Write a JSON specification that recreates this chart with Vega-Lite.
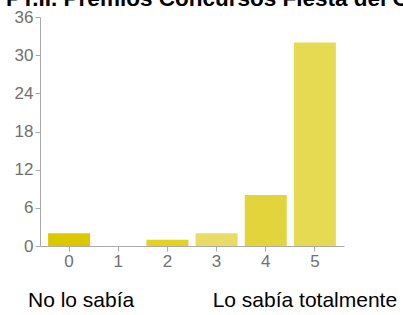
{
  "$schema": "https://vega.github.io/schema/vega-lite/v6.json",
  "autosize": {"type": "none"},
  "padding": {"left": 40, "top": 17, "right": 59, "bottom": 69},
  "width": 304,
  "height": 229,
  "background": "white",
  "title": {
    "text": "PT.II. Premios Concursos Fiesta del Cine",
    "anchor": "start",
    "dx": -8,
    "offset": -2,
    "font": "Liberation Sans",
    "fontSize": 22.5,
    "fontWeight": "bold",
    "color": "#000000"
  },
  "config": {
    "view": {"stroke": null},
    "font": "Liberation Sans",
    "axisX": {
      "title": null,
      "labelAngle": 0,
      "labelFont": "Liberation Sans",
      "labelFontSize": 17,
      "labelColor": "#707070",
      "labelPadding": 2,
      "domainColor": "#aaaaaa",
      "tickColor": "#aaaaaa",
      "tickSize": 5
    },
    "axisY": {
      "title": null,
      "labelOverlap": false,
      "grid": false,
      "labelFont": "Liberation Sans",
      "labelFontSize": 17,
      "labelColor": "#707070",
      "labelPadding": 2,
      "domainColor": "#aaaaaa",
      "tickColor": "#aaaaaa",
      "tickSize": 5
    }
  },
  "data": {
    "values": [
      {"score": "0", "count": 2},
      {"score": "1", "count": 0},
      {"score": "2", "count": 1},
      {"score": "3", "count": 2},
      {"score": "4", "count": 8},
      {"score": "5", "count": 32}
    ]
  },
  "layer": [
    {
      "mark": {"type": "bar"},
      "encoding": {
        "x": {
          "field": "score",
          "type": "ordinal",
          "scale": {"paddingInner": 0.146, "paddingOuter": 0.165}
        },
        "y": {
          "field": "count",
          "type": "quantitative",
          "scale": {"domain": [0, 36], "nice": false},
          "axis": {"values": [0, 6, 12, 18, 24, 30, 36]}
        },
        "color": {
          "field": "score",
          "type": "nominal",
          "scale": {
            "domain": ["0", "1", "2", "3", "4", "5"],
            "range": ["#DCC800", "#E0D030", "#E2D222", "#E8DC66", "#E2D43A", "#E6DA52"]
          },
          "legend": null
        }
      }
    },
    {
      "transform": [{"filter": "datum.score == '0'"}],
      "mark": {
        "type": "text",
        "text": "No lo sabía",
        "font": "Liberation Sans",
        "fontSize": 21,
        "color": "#000000",
        "dy": 61,
        "dx": 12,
        "baseline": "alphabetic"
      },
      "encoding": {
        "x": {"field": "score", "type": "ordinal"},
        "y": {"datum": 0, "type": "quantitative", "axis": {"values": [0, 6, 12, 18, 24, 30, 36]}}
      }
    },
    {
      "transform": [{"filter": "datum.score == '5'"}],
      "mark": {
        "type": "text",
        "text": "Lo sabía totalmente",
        "font": "Liberation Sans",
        "fontSize": 21,
        "color": "#000000",
        "dy": 61,
        "dx": -10,
        "baseline": "alphabetic"
      },
      "encoding": {
        "x": {"field": "score", "type": "ordinal"},
        "y": {"datum": 0, "type": "quantitative", "axis": {"values": [0, 6, 12, 18, 24, 30, 36]}}
      }
    }
  ]
}
